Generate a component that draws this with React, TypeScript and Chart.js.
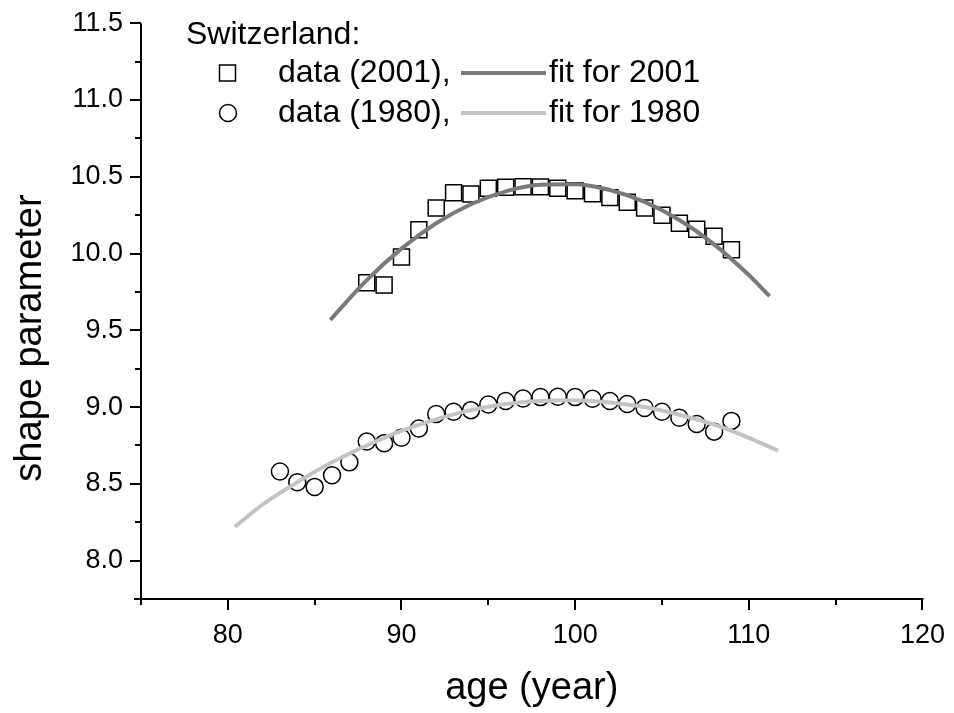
import React, { useEffect, useRef } from 'react';
import { Chart, registerables } from 'chart.js';

Chart.register(...registerables);

// ---- data ----
const ages2001 = [88, 89, 90, 91, 92, 93, 94, 95, 96, 97, 98, 99, 100, 101, 102, 103, 104, 105, 106, 107, 108, 109];
const shape2001 = [9.81, 9.795, 9.977, 10.155, 10.297, 10.396, 10.388, 10.425, 10.432, 10.435, 10.434, 10.425, 10.409, 10.39, 10.364, 10.334, 10.297, 10.249, 10.197, 10.158, 10.112, 10.025];

const ages1980 = [83, 84, 85, 86, 87, 88, 89, 90, 91, 92, 93, 94, 95, 96, 97, 98, 99, 100, 101, 102, 103, 104, 105, 106, 107, 108, 109];
const shape1980 = [8.58, 8.51, 8.48, 8.556, 8.64, 8.776, 8.765, 8.8, 8.86, 8.955, 8.97, 8.98, 9.017, 9.04, 9.056, 9.065, 9.067, 9.065, 9.054, 9.04, 9.02, 8.994, 8.97, 8.93, 8.89, 8.84, 8.91];

const fitAges2001 = [85.9, 88, 90, 92, 94, 96, 98, 100, 102, 104, 106, 108, 110, 111.2];
const fit2001 = [9.568, 9.827, 10.032, 10.197, 10.321, 10.405, 10.448, 10.451, 10.414, 10.336, 10.218, 10.06, 9.86, 9.722];

const fitAges1980 = [80.4, 82, 84, 86, 88, 90, 92, 94, 96, 98, 100, 102, 104, 106, 108, 110, 111.7];
const fit1980 = [8.22, 8.365, 8.51, 8.64, 8.75, 8.845, 8.92, 8.98, 9.02, 9.04, 9.045, 9.03, 9.0, 8.95, 8.885, 8.8, 8.715];

const xMin = 75;
const xMax = 120;
const yMin = 7.75;
const yMax = 11.5;

const legendTitle = 'Switzerland:';
const legendData = ['data (2001),', 'data (1980),'];
const legendFit = ['fit for 2001', 'fit for 1980'];
const xTitle = 'age (year)';
const yTitle = 'shape parameter';

const DARK = '#7a7a7a';
const LIGHT = '#c4c4c4';
const FONT = '"Liberation Sans", Arial, Helvetica, sans-serif';

const isMajor = (v: number, step: number) => Math.abs(v / step - Math.round(v / step)) < 1e-6;

const decorPlugin = {
  id: 'decor',
  afterDraw(chart: any) {
    const ctx = chart.ctx as CanvasRenderingContext2D;
    const xs = chart.scales.x;
    const ys = chart.scales.y;
    const area = chart.chartArea;
    ctx.save();
    ctx.strokeStyle = '#000';
    ctx.lineWidth = 2;
    ctx.lineCap = 'butt';
    // axes lines
    ctx.beginPath();
    ctx.moveTo(area.left, area.top);
    ctx.lineTo(area.left, area.bottom + 3);
    ctx.moveTo(area.left - 7, area.bottom);
    ctx.lineTo(area.right + 1, area.bottom);
    ctx.stroke();
    // ticks
    ctx.beginPath();
    xs.ticks.forEach((t: any) => {
      const px = Math.round(xs.getPixelForValue(t.value));
      const len = isMajor(t.value, 10) ? 11 : 6;
      ctx.moveTo(px, area.bottom);
      ctx.lineTo(px, area.bottom + len);
    });
    ys.ticks.forEach((t: any) => {
      const py = Math.round(ys.getPixelForValue(t.value));
      const len = isMajor(t.value, 0.5) ? 11 : 6;
      ctx.moveTo(area.left, py);
      ctx.lineTo(area.left - len, py);
    });
    ctx.stroke();

    // axis titles
    ctx.fillStyle = '#000';
    ctx.font = `38px ${FONT}`;
    ctx.textAlign = 'center';
    ctx.textBaseline = 'middle';
    ctx.fillText(xTitle, (area.left + area.right) / 2, 689);
    ctx.save();
    ctx.translate(31, 338);
    ctx.rotate(-Math.PI / 2);
    ctx.fillText(yTitle, 0, 0);
    ctx.restore();

    // legend
    ctx.font = `32px ${FONT}`;
    ctx.textAlign = 'left';
    ctx.textBaseline = 'middle';
    ctx.fillText(legendTitle, 186, 35);
    const rows = [73, 113];
    rows.forEach((ry, i) => {
      ctx.fillStyle = '#000';
      ctx.fillText(legendData[i], 278, ry);
      ctx.fillText(legendFit[i], 549, ry);
      ctx.strokeStyle = i === 0 ? DARK : LIGHT;
      ctx.lineWidth = 4;
      ctx.beginPath();
      ctx.moveTo(461, ry);
      ctx.lineTo(546, ry);
      ctx.stroke();
      ctx.strokeStyle = '#000';
      ctx.lineWidth = 1.5;
      ctx.beginPath();
      if (i === 0) {
        ctx.rect(227.5 - 8, ry - 8, 16, 16);
      } else {
        ctx.arc(228, ry, 8.5, 0, Math.PI * 2);
      }
      ctx.stroke();
    });
    ctx.restore();
  },
};

export default function App() {
  const canvasRef = useRef<HTMLCanvasElement | null>(null);

  useEffect(() => {
    document.body.style.margin = '0';
    const canvas = canvasRef.current;
    if (!canvas) return;
    const chart = new Chart(canvas, {
      type: 'scatter',
      data: {
        datasets: [
          {
            type: 'line',
            label: 'fit for 2001',
            data: fitAges2001.map((x, i) => ({ x, y: fit2001[i] })),
            borderColor: DARK,
            borderWidth: 4,
            pointRadius: 0,
            fill: false,
            cubicInterpolationMode: 'monotone',
          },
          {
            type: 'line',
            label: 'fit for 1980',
            data: fitAges1980.map((x, i) => ({ x, y: fit1980[i] })),
            borderColor: LIGHT,
            borderWidth: 4,
            pointRadius: 0,
            fill: false,
            cubicInterpolationMode: 'monotone',
          },
          {
            label: 'data (2001)',
            data: ages2001.map((x, i) => ({ x, y: shape2001[i] })),
            pointStyle: 'rect',
            pointRadius: 11.3,
            borderColor: '#000',
            borderWidth: 1.5,
            backgroundColor: 'rgba(0,0,0,0)',
          },
          {
            label: 'data (1980)',
            data: ages1980.map((x, i) => ({ x, y: shape1980[i] })),
            pointStyle: 'circle',
            pointRadius: 8.5,
            borderColor: '#000',
            borderWidth: 1.5,
            backgroundColor: 'rgba(0,0,0,0)',
          },
        ],
      } as any,
      options: {
        animation: false,
        responsive: false,
        maintainAspectRatio: false,
        events: [],
        layout: { padding: { top: 22, right: 31, left: 0, bottom: 0 } },
        plugins: {
          legend: { display: false },
          tooltip: { enabled: false },
          title: { display: false },
        },
        scales: {
          x: {
            type: 'linear',
            min: xMin,
            max: xMax,
            afterFit: (s: any) => {
              s.height = 114;
            },
            border: { display: false },
            grid: { display: true, drawOnChartArea: false, drawTicks: true, tickLength: 11, color: 'rgba(0,0,0,0)' },
            ticks: {
              stepSize: 5,
              autoSkip: false,
              maxRotation: 0,
              padding: 9,
              color: '#000',
              font: { family: FONT, size: 27 },
              callback: (v: any) => (isMajor(Number(v), 10) ? String(v) : ''),
            },
          },
          y: {
            type: 'linear',
            min: yMin,
            max: yMax,
            afterFit: (s: any) => {
              s.width = 141;
            },
            border: { display: false },
            grid: { display: true, drawOnChartArea: false, drawTicks: true, tickLength: 11, color: 'rgba(0,0,0,0)' },
            ticks: {
              stepSize: 0.25,
              autoSkip: false,
              padding: 7,
              color: '#000',
              font: { family: FONT, size: 27 },
              callback: (v: any) => (isMajor(Number(v), 0.5) ? Number(v).toFixed(1) : ''),
            },
          },
        },
      } as any,
      plugins: [decorPlugin],
    });
    return () => chart.destroy();
  }, []);

  return (
    <div style={{ position: 'absolute', left: 0, top: 0, width: 954, height: 713, background: '#fff' }}>
      <canvas ref={canvasRef} width={954} height={713} style={{ width: 954, height: 713, display: 'block' }} />
    </div>
  );
}
